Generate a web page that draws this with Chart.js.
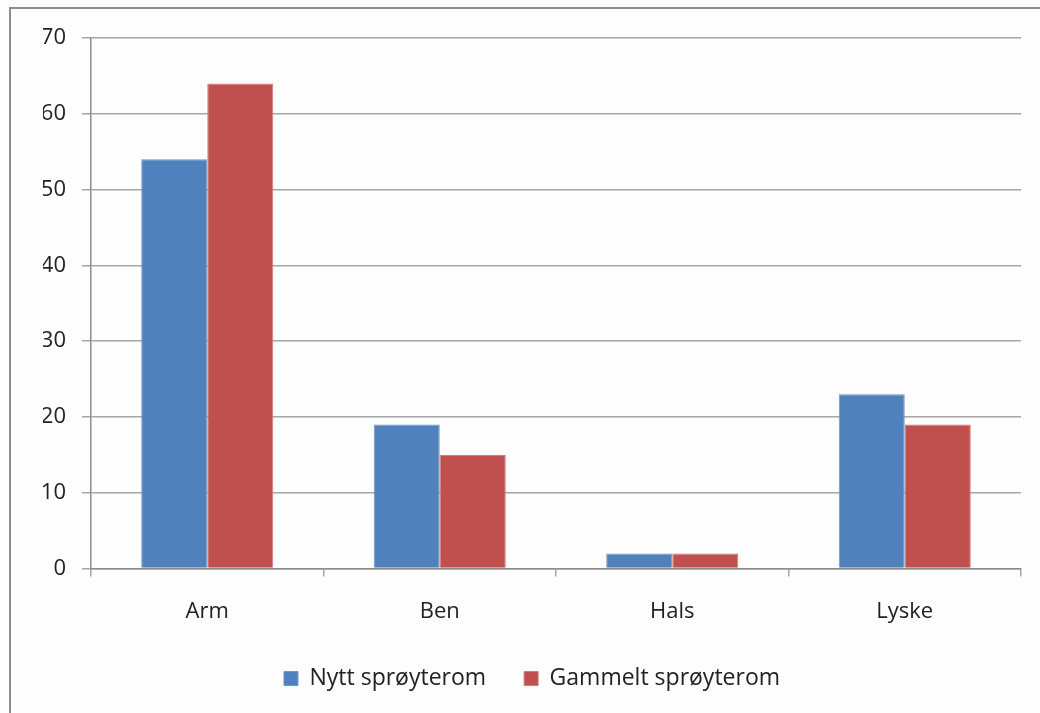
<!DOCTYPE html>
<html>
<head>
<meta charset="utf-8">
<script src="https://cdn.jsdelivr.net/npm/chart.js@4.4.0/dist/chart.umd.min.js"></script>
<style>
  html, body { margin: 0; padding: 0; background: #fdfdfd; }
  #wrap { position: relative; width: 1040px; height: 713px; overflow: hidden; }
  #frame { position: absolute; left: 9px; top: 7px; width: 1200px; height: 900px;
           border-left: 2px solid #8c8c8c; border-top: 2px solid #8c8c8c; }
  #c { position: absolute; left: 0; top: 0; }
</style>
</head>
<body>
<div id="wrap">
  <div id="frame"></div>
  <canvas id="c" width="1040" height="713"></canvas>
</div>
<script>
  // data
  const categories = ['Arm', 'Ben', 'Hals', 'Lyske'];
  const nyttValues = [54, 19, 2, 23];
  const gammeltValues = [64, 15, 2, 19];
  const seriesNames = ['Nytt sprøyterom', 'Gammelt sprøyterom'];

  const FONT = "'Open Sans', 'DejaVu Sans', sans-serif";
  const gridColor = '#a6a6a6';

  const ctx = document.getElementById('c').getContext('2d');
  new Chart(ctx, {
    type: 'bar',
    data: {
      labels: categories,
      datasets: [
        { label: seriesNames[0], data: nyttValues, backgroundColor: '#4f81bd',
          borderColor: '#6f97c9', borderWidth: 1 },
        { label: seriesNames[1], data: gammeltValues, backgroundColor: '#c0504d',
          borderColor: '#d07a78', borderWidth: 1 }
      ]
    },
    options: {
      responsive: false,
      animation: false,
      // left padding + narrow y box keeps the plot at x=91 but centres the legend further right
      layout: { padding: { left: 43, right: 19, top: 38, bottom: 13 } },
      datasets: { bar: { categoryPercentage: 0.568, barPercentage: 1 } },
      scales: {
        x: {
          grid: { offset: true, drawOnChartArea: false, drawTicks: true, tickLength: 8,
                  color: gridColor, lineWidth: 1.5 },
          border: { color: '#8c8c8c', width: 1.5 },
          ticks: { color: '#222', padding: 22, font: { family: FONT, size: 22 } },
          // pull the axis down, labels may hang into the legend's top gap
          afterFit: function (scale) { scale.height -= 18; }
        },
        y: {
          min: 0, max: 70,
          ticks: { stepSize: 10, color: '#222', padding: 16, font: { family: FONT, size: 22 } },
          grid: { color: gridColor, lineWidth: 1.5, tickLength: 9 },
          border: { color: '#8c8c8c', width: 1.5 },
          afterFit: function (scale) { scale.width = 48; }
        }
      },
      plugins: {
        legend: {
          position: 'bottom',
          labels: { boxWidth: 14, boxHeight: 14, padding: 38, color: '#222',
                    font: { family: FONT, size: 23 } }
        },
        tooltip: { enabled: false }
      }
    }
  });
</script>
</body>
</html>
